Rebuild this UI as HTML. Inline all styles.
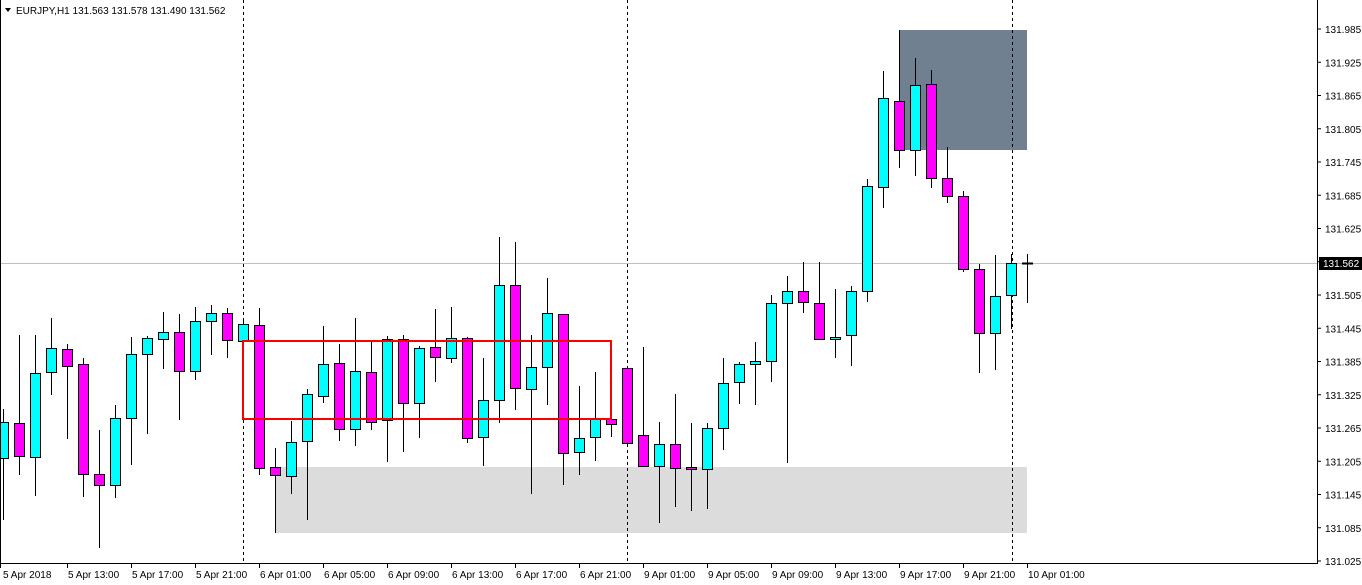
<!DOCTYPE html>
<html><head><meta charset="utf-8"><style>
html,body{margin:0;padding:0;background:#fff;}
svg{display:block;font-family:"Liberation Sans",sans-serif;font-size:10px;}
</style></head><body>
<svg id="c" width="1362" height="585" xmlns="http://www.w3.org/2000/svg">
<rect x="0" y="0" width="1362" height="585" fill="#fff"/>
<rect x="275" y="467" width="752" height="66" fill="#dcdcdc"/>
<rect x="899" y="30" width="128" height="120" fill="#708090"/>
<line x1="0" y1="263.5" x2="1317" y2="263.5" stroke="#c0c0c0"/>
<g stroke="#000" stroke-dasharray="3,3">
<line x1="243.5" y1="0" x2="243.5" y2="563"/>
<line x1="627.5" y1="0" x2="627.5" y2="563"/>
<line x1="1012.5" y1="0" x2="1012.5" y2="563"/>
</g>
<g id="candles"></g>
<rect x="243" y="341" width="368" height="78" fill="none" stroke="#f00" stroke-width="2"/>
<line x1="1317.5" y1="0" x2="1317.5" y2="564" stroke="#000"/>
<line x1="0" y1="563.5" x2="1318" y2="563.5" stroke="#000"/>
<line x1="0.5" y1="0" x2="0.5" y2="564" stroke="#000"/>
<g id="yax" fill="#000"></g>
<g id="xax" fill="#000"></g>
<rect x="1319" y="257" width="43" height="13" fill="#000"/>
<text x="1323" y="267" fill="#fff">131.562</text>
<polygon points="5,8 11,8 8,12" fill="#000"/>
<text x="16" y="14" fill="#000">EURJPY,H1  131.563 131.578 131.490 131.562</text>
</svg>
<script>
var d=[
[3,422,458,409,520,1],[19,423,456,335,475,0],[35,373,457,335,496,1],[51,348,372,318,395,1],
[67,349,366,344,439,0],[83,364,474,358,497,0],[99,474,485,430,548,0],[115,418,485,405,498,1],
[131,354,418,337,465,1],[147,338,354,336,434,1],[163,332,339,312,369,1],[179,332,371,314,420,0],
[195,321,371,307,380,1],[211,313,321,305,355,1],[227,313,340,308,358,0],[243,324,341,318,342,1],
[259,325,468,308,475,0],[275,467,475,448,533,0],[291,442,476,421,494,1],[307,394,441,389,520,1],
[323,364,396,326,403,1],[339,363,429,344,441,0],[355,371,429,318,446,1],[371,372,422,342,430,0],
[387,339,420,336,462,1],[403,339,403,335,452,0],[419,348,403,346,438,1],[435,347,357,309,382,0],
[451,338,358,307,363,1],[467,338,438,337,443,0],[483,400,437,358,466,1],[499,285,400,237,423,1],
[515,285,388,242,410,0],[531,367,389,335,494,1],[547,313,367,278,405,1],[563,314,453,314,485,0],
[579,438,452,386,475,1],[595,419,437,372,461,1],[611,419,424,415,437,0],[627,368,443,368,443,0],
[643,435,466,347,466,0],[659,444,466,422,523,1],[675,444,468,394,507,0],[691,467,469,423,511,0],
[707,428,469,423,509,1],[723,383,428,358,450,1],[739,364,382,362,404,1],[755,361,364,342,405,1],
[771,303,361,295,382,1],[787,291,303,276,463,1],[803,291,302,262,313,0],[819,303,339,262,339,0],
[835,337,339,289,358,1],[851,291,335,286,366,1],[867,186,291,179,302,1],[883,98,187,71,208,1],
[899,101,150,30,168,0],[915,85,150,58,176,1],[931,84,178,70,188,0],[947,178,196,147,203,0],
[963,196,269,191,272,0],[979,269,333,264,373,0],[995,296,333,255,370,1],[1011,263,295,254,329,1]];
var s='';
d.forEach(function(c){var x=c[0];
s+='<line x1="'+(x+.5)+'" y1="'+c[3]+'" x2="'+(x+.5)+'" y2="'+c[4]+'" stroke="#000"/>';
s+='<rect x="'+(x-4.5)+'" y="'+(c[1]+.5)+'" width="10" height="'+Math.max(1,c[2]-c[1])+'" fill="'+(c[5]?'#00ffff':'#ff00ff')+'" stroke="#000"/>';});
s+='<line x1="1027.5" y1="254" x2="1027.5" y2="303" stroke="#000"/><line x1="1022" y1="263.5" x2="1033" y2="263.5" stroke="#000" stroke-width="2"/>';
document.getElementById('candles').innerHTML=s;
var y='';for(var i=0;i<=16;i++){var yy=29+i*33.25;var p=(131.985-i*0.06).toFixed(3);
y+='<line x1="1317" y1="'+yy+'" x2="1321" y2="'+yy+'" stroke="#000"/><text x="1325" y="'+(yy+4)+'">'+p+'</text>';}
document.getElementById('yax').innerHTML=y;
var L=['5 Apr 13:00','5 Apr 17:00','5 Apr 21:00','6 Apr 01:00','6 Apr 05:00','6 Apr 09:00','6 Apr 13:00','6 Apr 17:00','6 Apr 21:00','9 Apr 01:00','9 Apr 05:00','9 Apr 09:00','9 Apr 13:00','9 Apr 17:00','9 Apr 21:00','10 Apr 01:00'];
var t='<text x="3" y="578">5 Apr 2018</text><line x1="0.5" y1="563" x2="0.5" y2="568" stroke="#000"/>';
L.forEach(function(l,i){var x=67+64*i;t+='<line x1="'+(x+.5)+'" y1="563" x2="'+(x+.5)+'" y2="568" stroke="#000"/><text x="'+(x+1)+'" y="578">'+l+'</text>';});
document.getElementById('xax').innerHTML=t;
</script>
</body></html>
